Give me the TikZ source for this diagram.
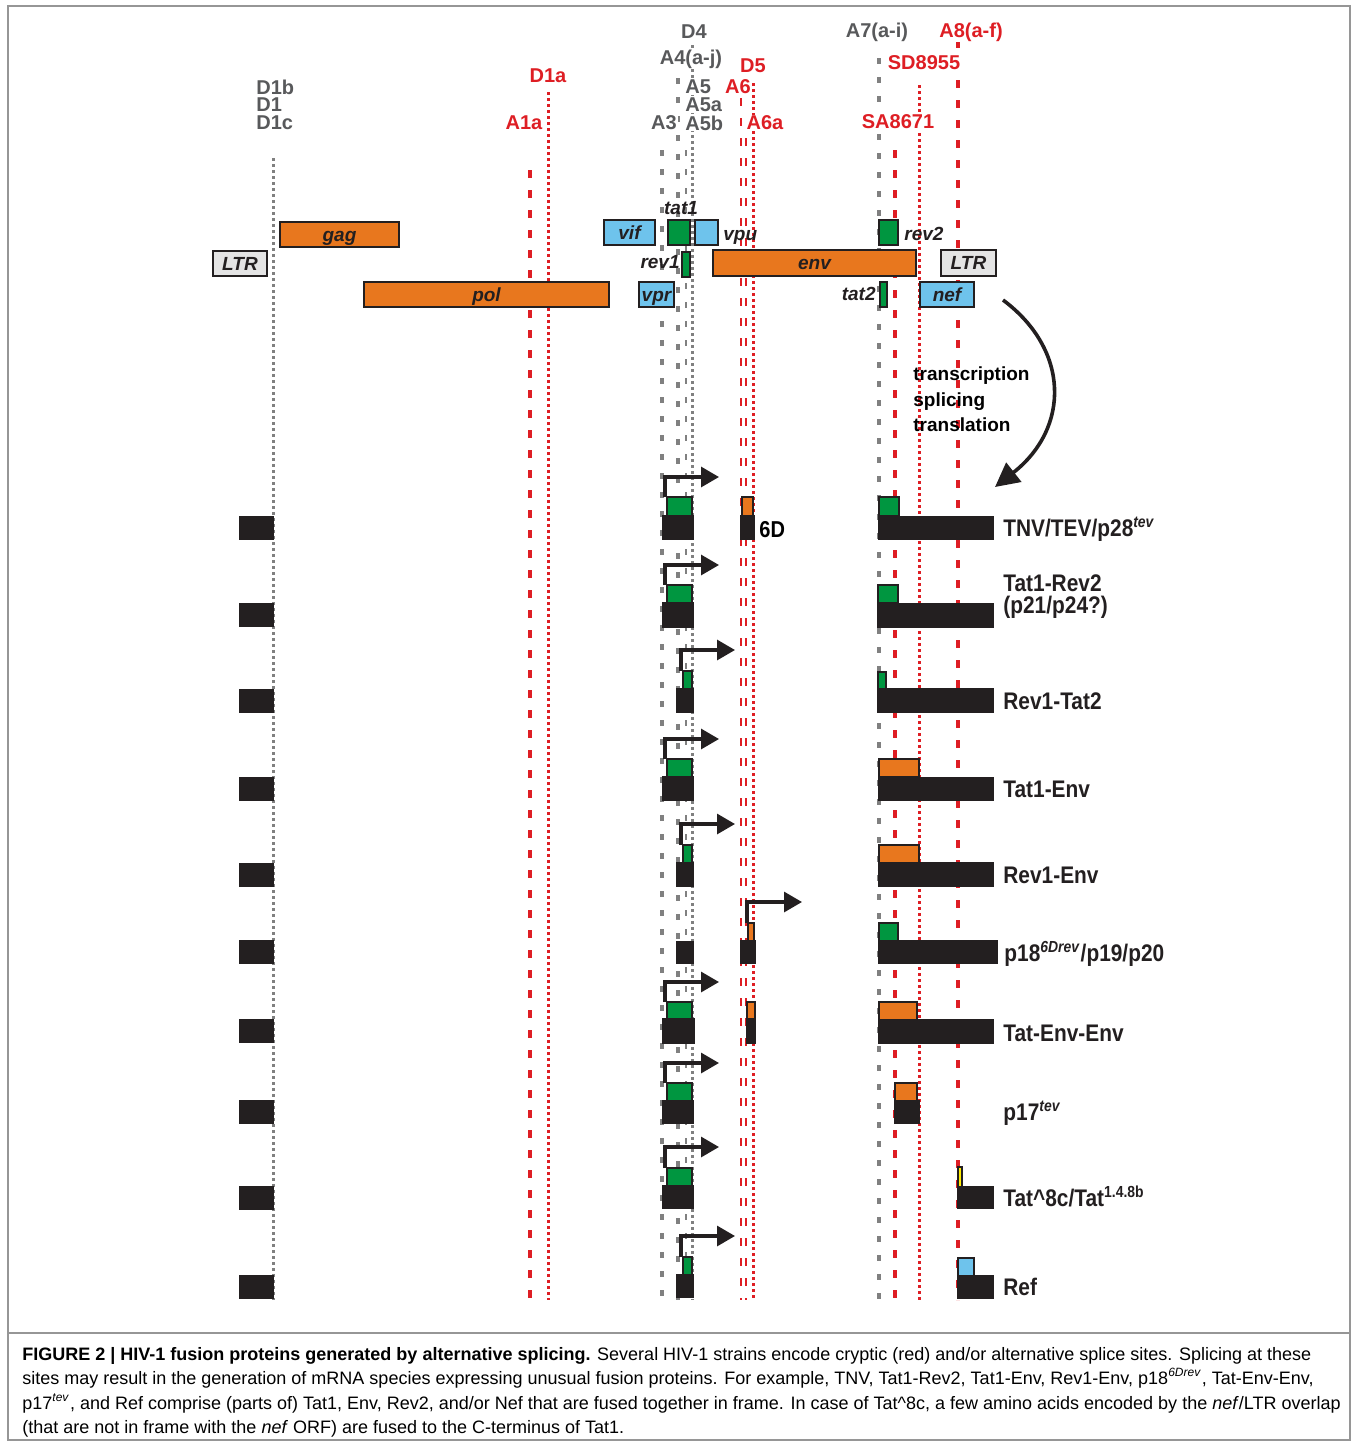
\documentclass[tikz,border=0pt]{standalone}
\usepackage{fontspec}
\setmainfont{Liberation Sans}
\newfontfamily\narrowfont[FakeStretch=0.87]{Liberation Sans}
\usetikzlibrary{arrows.meta}
\definecolor{sitegray}{RGB}{88,89,91}
\definecolor{linegray}{RGB}{128,128,128}
\definecolor{sitered}{RGB}{222,30,36}
\definecolor{orf}{RGB}{232,119,30}
\definecolor{orfblue}{RGB}{110,195,236}
\definecolor{orfgreen}{RGB}{0,150,64}
\definecolor{ltrgray}{RGB}{228,228,228}
\definecolor{exonblack}{RGB}{35,31,32}
\definecolor{tatyellow}{RGB}{255,237,0}
\definecolor{framegray}{RGB}{150,150,150}
\newcommand{\tev}{\textsuperscript{\textit{tev}}}

\begin{document}
\begin{tikzpicture}[x=0.5pt, y=-0.5pt,
    graysite/.style={text=sitegray, font=\fontsize{10}{11}\selectfont\bfseries, inner sep=0.5pt, fill=white},
    redsite/.style={graysite, text=sitered},
    dotgray/.style={linegray, line width=1.5pt, dash pattern=on 1.5pt off 1.5pt},
    dashgray/.style={linegray, line width=1.6pt, dash pattern=on 3pt off 6.5pt},
    dotred/.style={sitered, line width=1.5pt, dash pattern=on 1.5pt off 1.5pt},
    dashred/.style={sitered, line width=2pt, dash pattern=on 4pt off 6pt},
    orfbox/.style={draw=exonblack, line width=0.8pt},
    orflabel/.style={font=\fontsize{9.5}{11}\selectfont\bfseries\itshape, text=exonblack, inner sep=0pt, text height=6.8pt, text depth=0pt},
    exon/.style={fill=exonblack, draw=exonblack, line width=0.6pt},
    promoter/.style={draw=exonblack, line width=1.6pt, -{Triangle[length=9pt,width=10pt]}},
    rowlabel/.style={anchor=base west, font=\narrowfont\fontsize{12}{11}\selectfont\bfseries, text=exonblack, align=left, inner sep=0pt},
    capline/.style={anchor=base west, inner sep=0pt, font=\fontsize{9}{10}\selectfont},
  ]
  \useasboundingbox (0,0) rectangle (1358,1446);
  \draw[framegray, line width=0.6pt] (8,6) rectangle (1350,1440);
  \draw[framegray, line width=0.6pt] (8,1333) -- (1350,1333);

  % splice sites
  \draw[dotgray] (273,158) -- (273,1300);
  \draw[dashred] (530,170) -- (530,1300);
  \draw[dotred] (548,92) -- (548,1300);
  \draw[dashgray] (662,150) -- (662,1300);
  \draw[dashgray] (678,78) -- (678,1300);
  \draw[dashgray, line width=1.3pt] (686,150) -- (686,1300);
  \draw[dotgray] (692,45) -- (692,1300);
  \draw[dashred, line width=1.3pt] (741,98) -- (741,1300);
  \draw[dashred, line width=1.3pt] (746,138) -- (746,1300);
  \draw[dotred] (753,83) -- (753,1300);
  \draw[dashgray] (879,58) -- (879,1300);
  \draw[dashred] (895,150) -- (895,1300);
  \draw[dotred] (919,85) -- (919,1300);
  \draw[dashred] (958,40) -- (958,1300);

  \node[graysite, anchor=west] (d1b) at (255,87) {D1b};
  \node[graysite, anchor=west] (d1) at (255,105) {D1};
  \node[graysite, anchor=west] (d1c) at (255,123) {D1c};
  \node[redsite] (d1a) at (548,76) {D1a};
  \node[redsite] (a1a) at (524,123) {A1a};
  \node[graysite] (d4) at (694,32) {D4};
  \node[graysite] (a4) at (691,59) {A4(a-j)};
  \node[graysite, anchor=west] (a5) at (684,87) {A5};
  \node[graysite, anchor=west] (a5a) at (684,105) {A5a};
  \node[graysite, anchor=west] (a5b) at (684,123) {A5b};
  \node[graysite] (a3) at (664,123) {A3};
  \node[redsite] (d5) at (753,66) {D5};
  \node[redsite] (a6) at (738,87) {A6};
  \node[redsite] (a6a) at (765,123) {A6a};
  \node[graysite] (a7) at (877,32) {A7(a-i)};
  \node[redsite] (a8) at (971,32) {A8(a-f)};
  \node[redsite] (sd8955) at (924,63) {SD8955};
  \node[redsite] (sa8671) at (898,122) {SA8671};

  % genome
  \draw[orfbox, fill=orf] (280,222) rectangle (399,247) node[midway, orflabel] (gag) {gag};
  \draw[orfbox, fill=ltrgray] (213,251) rectangle (267,276) node[midway, orflabel] (ltr5) {LTR};
  \draw[orfbox, fill=orf] (364,282) rectangle (609,307) node[midway, orflabel] (pol) {pol};
  \draw[orfbox, fill=orfblue] (604,220) rectangle (655,245) node[midway, orflabel] (vif) {vif};
  \draw[orfbox, fill=orfgreen] (668,220) rectangle (690,245);
  \node[orflabel] (tat1) at (681,208) {tat1};
  \draw[orfbox, fill=orfblue] (695,220) rectangle (718,245);
  \node[orflabel, anchor=west] (vpu) at (723,234) {vpu};
  \draw[orfbox, fill=orfgreen] (682,252) rectangle (690,277);
  \node[orflabel, anchor=east] (rev1) at (680,262) {rev1};
  \draw[orfbox, fill=orf] (713,250) rectangle (916,276) node[midway, orflabel] (env) {env};
  \draw[orfbox, fill=orfblue] (639,282) rectangle (674,307) node[midway, orflabel] (vpr) {vpr};
  \draw[orfbox, fill=orfgreen] (879,220) rectangle (898,245);
  \node[orflabel, anchor=west] (rev2) at (904,234) {rev2};
  \draw[orfbox, fill=orfgreen] (880,282) rectangle (887,307);
  \node[orflabel, anchor=east] (tat2) at (876,294) {tat2};
  \draw[orfbox, fill=ltrgray] (941,250) rectangle (996,276) node[midway, orflabel] (ltr3) {LTR};
  \draw[orfbox, fill=orfblue] (920,282) rectangle (974,307) node[midway, orflabel] (nef) {nef};

  \draw[exonblack, line width=1.8pt, -{Triangle[length=12pt,width=12pt]}]
    (1003,300) .. controls (1070,350) and (1070,428) .. (995,487);
  \node[anchor=base west, font=\fontsize{9.5}{11}\selectfont\bfseries, inner sep=0pt] (tr1) at (913,380) {transcription};
  \node[anchor=base west, font=\fontsize{9.5}{11}\selectfont\bfseries, inner sep=0pt] (tr2) at (913,406) {splicing};
  \node[anchor=base west, font=\fontsize{9.5}{11}\selectfont\bfseries, inner sep=0pt] (tr3) at (913,431) {translation};

  % 5' exons
  \foreach \t in {517,604,690,778,864,941,1020,1101,1187,1276}
    \draw[exon] (240,\t) rectangle (273,\t+22);

  % TNV/TEV/p28
  \draw[promoter] (665,497) |- (719,477);
  \draw[orfbox, fill=orfgreen] (667,497) rectangle (692,516);
  \draw[exon] (663,516) rectangle (693,539);
  \draw[orfbox, fill=orf] (742,497) rectangle (753,516);
  \draw[exon] (741,516) rectangle (754,539);
  \node[anchor=base west, font=\narrowfont\fontsize{11.5}{12}\selectfont\bfseries, inner sep=0pt] (sixd) at (759,537) {6D};
  \draw[orfbox, fill=orfgreen] (879,497) rectangle (899,516);
  \draw[exon] (879,517) rectangle (993,539);
  \node[rowlabel] (tnv) at (1003,536) {TNV/TEV/p28\tev};

  % Tat1-Rev2
  \draw[promoter] (665,585) |- (719,565);
  \draw[orfbox, fill=orfgreen] (667,585) rectangle (692,603);
  \draw[exon] (663,603) rectangle (693,627);
  \draw[orfbox, fill=orfgreen] (878,585) rectangle (898,603);
  \draw[exon] (878,604) rectangle (993,627);
  \node[rowlabel] (tatrev) at (1003,613) {Tat1-Rev2\\(p21/p24?)};

  % Rev1-Tat2
  \draw[promoter] (681,671) |- (735,650);
  \draw[orfbox, fill=orfgreen] (683,671) rectangle (692,689);
  \draw[exon] (677,689) rectangle (693,712);
  \draw[orfbox, fill=orfgreen] (878,672) rectangle (886,689);
  \draw[exon] (878,689) rectangle (993,712);
  \node[rowlabel] (revtat) at (1003,709) {Rev1-Tat2};

  % Tat1-Env
  \draw[promoter] (665,759) |- (719,739);
  \draw[orfbox, fill=orfgreen] (667,759) rectangle (692,777);
  \draw[exon] (663,777) rectangle (693,800);
  \draw[orfbox, fill=orf] (879,759) rectangle (919,777);
  \draw[exon] (879,778) rectangle (993,800);
  \node[rowlabel] (tatenv) at (1003,797) {Tat1-Env};

  % Rev1-Env
  \draw[promoter] (681,845) |- (735,824);
  \draw[orfbox, fill=orfgreen] (683,845) rectangle (692,863);
  \draw[exon] (677,863) rectangle (693,886);
  \draw[orfbox, fill=orf] (879,845) rectangle (919,863);
  \draw[exon] (879,863) rectangle (993,886);
  \node[rowlabel] (revenv) at (1003,883) {Rev1-Env};

  % p18
  \draw[exon] (677,942) rectangle (693,963);
  \draw[promoter] (747,923) |- (802,902);
  \draw[orfbox, fill=orf] (748,923) rectangle (754,941);
  \draw[exon] (741,941) rectangle (755,963);
  \draw[orfbox, fill=orfgreen] (879,923) rectangle (898,941);
  \draw[exon] (879,941) rectangle (997,963);
  \node[rowlabel] (ptwo) at (1004,961) {p18\textsuperscript{\textit{6Drev}}/p19/p20};

  % Tat-Env-Env
  \draw[promoter] (665,1002) |- (719,982);
  \draw[orfbox, fill=orfgreen] (667,1002) rectangle (692,1019);
  \draw[exon] (663,1019) rectangle (694,1043);
  \draw[orfbox, fill=orf] (747,1002) rectangle (755,1019);
  \draw[exon] (747,1019) rectangle (755,1043);
  \draw[orfbox, fill=orf] (879,1002) rectangle (917,1020);
  \draw[exon] (879,1020) rectangle (993,1043);
  \node[rowlabel] (tatenvenv) at (1003,1041) {Tat-Env-Env};

  % p17
  \draw[promoter] (665,1083) |- (719,1063);
  \draw[orfbox, fill=orfgreen] (667,1083) rectangle (692,1101);
  \draw[exon] (663,1101) rectangle (693,1123);
  \draw[orfbox, fill=orf] (895,1083) rectangle (917,1101);
  \draw[exon] (895,1101) rectangle (919,1123);
  \node[rowlabel] (pseventeen) at (1003,1120) {p17\tev};

  % Tat^8c
  \draw[promoter] (665,1168) |- (719,1147);
  \draw[orfbox, fill=orfgreen] (667,1168) rectangle (692,1186);
  \draw[exon] (663,1186) rectangle (693,1208);
  \draw[orfbox, fill=tatyellow] (958,1167) rectangle (962,1187);
  \draw[exon] (958,1187) rectangle (993,1208);
  \node[rowlabel] (tateight) at (1003,1206) {Tat\textasciicircum8c/Tat\textsuperscript{1.4.8b}};

  % Ref
  \draw[promoter] (681,1257) |- (735,1236);
  \draw[orfbox, fill=orfgreen] (683,1257) rectangle (692,1275);
  \draw[exon] (677,1275) rectangle (693,1297);
  \draw[orfbox, fill=orfblue] (958,1258) rectangle (974,1276);
  \draw[exon] (958,1276) rectangle (993,1298);
  \node[rowlabel] (ref) at (1003,1295) {Ref};

  % caption
  \node[capline] (cap1) at (22,1360)
    {\textbf{FIGURE 2 | HIV-1 fusion proteins generated by alternative splicing.} Several HIV-1 strains encode cryptic (red) and/or alternative splice sites. Splicing at these};
  \node[capline] (cap2) at (22,1384)
    {sites may result in the generation of mRNA species expressing unusual fusion proteins. For example, TNV, Tat1-Rev2, Tat1-Env, Rev1-Env, p18\textsuperscript{\textit{6Drev}}, Tat-Env-Env,};
  \node[capline] (cap3) at (22,1409)
    {p17\tev, and Ref comprise (parts of) Tat1, Env, Rev2, and/or Nef that are fused together in frame. In case of Tat\textasciicircum8c, a few amino acids encoded by the \textit{nef}/LTR overlap};
  \node[capline] (cap4) at (22,1433)
    {(that are not in frame with the \textit{nef} ORF) are fused to the C-terminus of Tat1.};
\end{tikzpicture}
\end{document}
